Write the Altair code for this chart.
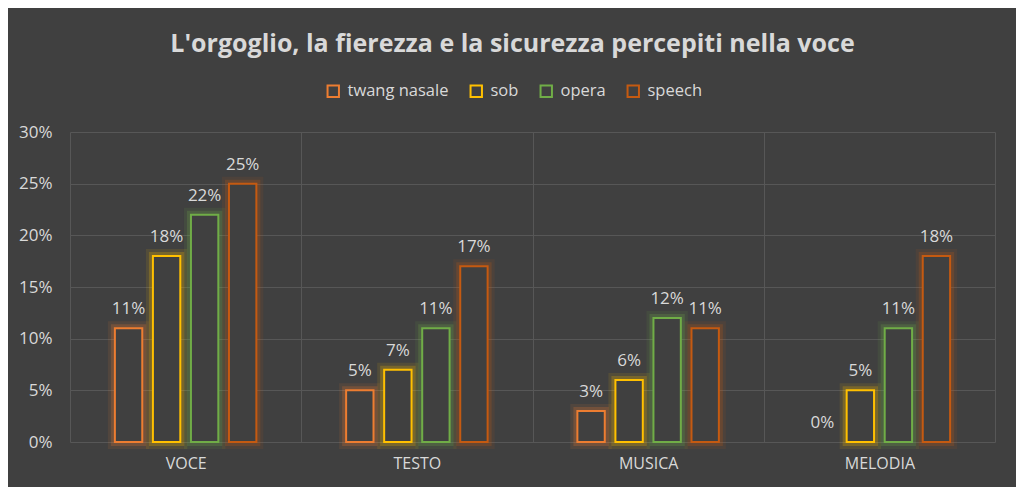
import altair as alt
import pandas as pd

categories = ["VOCE", "TESTO", "MUSICA", "MELODIA"]
series = ["twang nasale", "sob", "opera", "speech"]
twang = [0.11, 0.05, 0.03, 0.00]
sob = [0.18, 0.07, 0.06, 0.05]
opera = [0.22, 0.11, 0.12, 0.11]
speech = [0.25, 0.17, 0.11, 0.18]
colors = ["#ED7D31", "#FFC000", "#70AD47", "#C55A11"]

rows = []
for s, vals in zip(series, [twang, sob, opera, speech]):
    for c, v in zip(categories, vals):
        rows.append({"cat": c, "serie": s, "val": v})
df = pd.DataFrame(rows)

FONT = "Open Sans"
TXT = "#d9d9d9"
BG = "#404040"

x_enc = alt.X("cat:N", sort=categories, title=None,
              scale=alt.Scale(paddingInner=0, paddingOuter=0),
              axis=alt.Axis(labelAngle=0, labelFont=FONT, labelFontSize=16, labelColor=TXT,
                            labelPadding=13, domain=False, ticks=False, grid=True,
                            gridColor="#575757", gridWidth=1, tickBand="extent"))
offset_domain = ["_l"] + series + ["_r"]
xo_enc = alt.XOffset("serie:N",
                     scale=alt.Scale(domain=offset_domain, paddingInner=0.28, paddingOuter=0.18))
y_enc = alt.Y("val:Q", title=None,
              scale=alt.Scale(domain=[0, 0.30]),
              axis=alt.Axis(format=".0%", values=[0, 0.05, 0.10, 0.15, 0.20, 0.25, 0.30],
                            labelFont=FONT, labelFontSize=17, labelColor=TXT, labelPadding=18,
                            domain=False, ticks=False, gridColor="#575757", gridWidth=1))
stroke_scale = alt.Scale(domain=series, range=colors)
legend = alt.Legend(orient="none", legendX=255, legendY=-49, direction="horizontal",
                    symbolType="square", symbolSize=130, symbolStrokeWidth=2,
                    symbolFillColor=BG, labelFont=FONT, labelFontSize=16.5,
                    labelColor=TXT, columnPadding=17, labelOffset=6, title=None)
stroke_enc = alt.Stroke("serie:N", sort=series, title=None, scale=stroke_scale, legend=legend)

base = alt.Chart(df)
nonzero = base.transform_filter("datum.val > 0")

glow_outer = nonzero.mark_bar(fill=BG, fillOpacity=0, strokeWidth=14, strokeOpacity=0.10).encode(
    x=x_enc, xOffset=xo_enc, y=y_enc, stroke=stroke_enc,
)
glow = nonzero.mark_bar(fill=BG, fillOpacity=0, strokeWidth=8, strokeOpacity=0.22).encode(
    x=x_enc, xOffset=xo_enc, y=y_enc, stroke=stroke_enc,
)
bars = nonzero.mark_bar(fill=BG, strokeWidth=2).encode(
    x=x_enc, xOffset=xo_enc, y=y_enc, stroke=stroke_enc,
)
labels = base.mark_text(font=FONT, fontSize=17, color=TXT, baseline="bottom", dy=-10).encode(
    x=x_enc, xOffset=xo_enc, y=y_enc,
    text=alt.Text("val:Q", format=".0%"),
)

chart = alt.layer(glow_outer, glow, bars, labels).properties(
    width=925, height=310,
    padding={"left": 62, "top": 124, "right": 21, "bottom": 45},
    autosize=alt.AutoSizeParams(type="none"),
    background=BG,
    title=alt.TitleParams("L'orgoglio,  la fierezza e la sicurezza percepiti nella voce",
                          font=FONT, fontSize=25, fontWeight="bold", color=TXT,
                          anchor="middle", frame="group", dx=-20, offset=26),
).configure_view(stroke=None)

chart.save("out.html", embed_options={"renderer": "svg", "actions": False})
